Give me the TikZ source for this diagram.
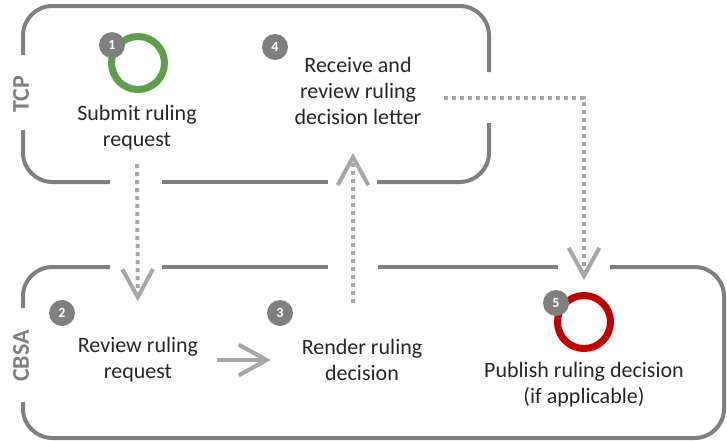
\documentclass[tikz,border=0pt]{standalone}
\usepackage{fontspec}
\setmainfont{Carlito}
\usetikzlibrary{arrows.meta}
\definecolor{frame_grey}{HTML}{7F7F7F}
\definecolor{arrow_grey}{HTML}{A6A6A6}
\definecolor{ring_green}{HTML}{5E9E4A}
\definecolor{ring_red}{HTML}{C00000}
\definecolor{text_dark}{HTML}{262626}

\begin{document}
\begin{tikzpicture}[x=0.75pt,y=-0.75pt,
    frame/.style={frame_grey,line width=3pt,rounded corners=22pt},
    lane/.style={frame_grey,font=\fontsize{18}{20}\selectfont\bfseries,rotate=90,inner sep=0pt},
    steptext/.style={text_dark,align=center,font=\fontsize{16.5}{19.5}\selectfont,inner sep=0pt},
    badge/.style={circle,fill=frame_grey,text=white,font=\fontsize{10.5}{10.5}\selectfont\bfseries,minimum size=19.5pt,inner sep=0pt},
    ring/.style={circle,line width=5.25pt,minimum size=39.75pt,inner sep=0pt},
    dotarrow/.style={arrow_grey,line width=3pt,dash pattern=on 3pt off 3pt,-{Straight Barb[length=21pt,width=23pt]}},
    solidarrow/.style={arrow_grey,line width=3pt,-{Straight Barb[length=21pt,width=23pt]}}]
    \useasboundingbox (0,0) rectangle (727,440);
    % lanes
    \draw[frame] (23,55) -- (23,6) -- (489,6) -- (489,72);
    \draw[frame] (489,123) -- (489,182) -- (377,182);
    \draw[frame] (328,182) -- (162,182);
    \draw[frame] (110,182) -- (23,182) -- (23,130);
    \draw[frame] (23,308) -- (23,267) -- (110,267);
    \draw[frame] (162,267) -- (328,267);
    \draw[frame] (378,267) -- (558,267);
    \draw[frame] (610,267) -- (724,267) -- (724,438) -- (23,438) -- (23,402);
    \node[lane] (tcp) at (21,94) {TCP};
    \node[lane] (cbsa) at (21,356) {CBSA};
    % steps
    \node[ring,draw=ring_green] (ring1) at (138,63) {};
    \node[ring,draw=ring_red] (ring5) at (584,322) {};
    \node[steptext] (submit) at (137,128) {Submit ruling\\request};
    \node[steptext] (receive) at (358,91) {Receive and\\review ruling\\decision letter};
    \node[steptext] (review) at (138,360) {Review ruling\\request};
    \node[steptext] (render) at (362,360) {Render ruling\\decision};
    \node[steptext] (publish) at (584,385) {Publish ruling decision\\(if applicable)};
    \node[badge] (b1) at (112,45) {1};
    \node[badge] (b2) at (62,313) {2};
    \node[badge] (b3) at (280,313) {3};
    \node[badge] (b4) at (275,47) {4};
    \node[badge] (b5) at (556,303) {5};
    % flow
    \draw[dotarrow,shorten <=10pt,shorten >=27pt] (submit.south) -- (review.north);
    \draw[solidarrow,shorten <=14pt,shorten >=23pt] (review.east) -- (render.west);
    \draw[dotarrow,shorten <=27pt,shorten >=21pt] ([xshift=-6.75pt]render.north) -- ([xshift=-6.75pt]render.north |- receive.south);
    \draw[dotarrow,shorten <=17pt,shorten >=9pt] ([yshift=-5pt]receive.east) -| (ring5.north);
\end{tikzpicture}
\end{document}
